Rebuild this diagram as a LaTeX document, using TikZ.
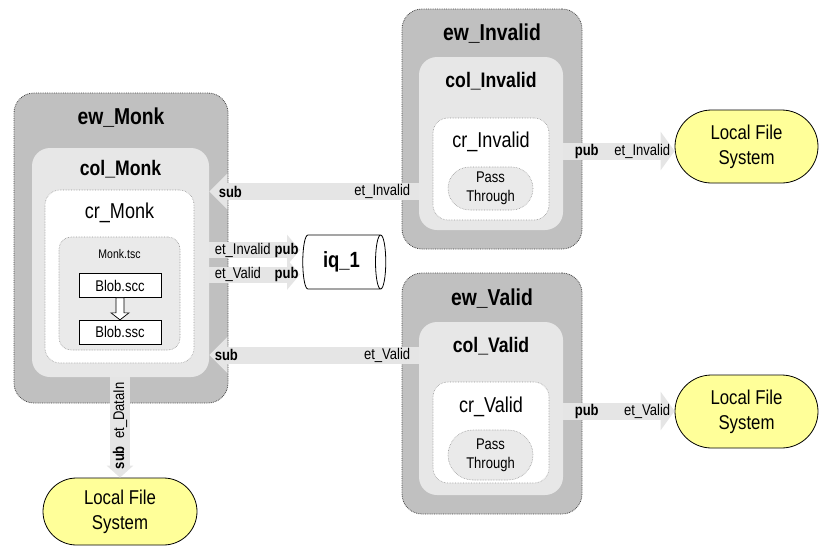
\documentclass[tikz,border=0pt]{standalone}
\usepackage{fontspec}
\setmainfont{Liberation Sans}[FakeStretch=0.84]
\usepackage{tikz}
\usetikzlibrary{shapes.geometric, shapes.misc, arrows.meta, positioning, calc}
\definecolor{ewgray}{RGB}{192,192,192}
\definecolor{colgray}{RGB}{231,231,231}
\definecolor{bandgray}{RGB}{229,229,229}
\definecolor{tscgray}{RGB}{234,234,234}
\definecolor{dotgray}{RGB}{150,150,150}
\definecolor{dotdark}{RGB}{70,70,70}
\definecolor{lfsyellow}{RGB}{255,255,153}
\tikzset{
  ewbox/.style={rectangle, draw=dotdark, densely dotted, fill=ewgray,
    rounded corners=20pt, line width=0.8pt, inner sep=0pt},
  colbox/.style={rectangle, fill=colgray, rounded corners=18pt, inner sep=0pt},
  crbox/.style={rectangle, draw=dotgray, densely dotted, fill=white,
    rounded corners=15pt, line width=0.6pt, inner sep=0pt},
  tscbox/.style={rectangle, draw=dotgray, densely dotted, fill=tscgray,
    rounded corners=12pt, line width=0.6pt, inner sep=0pt},
  passbox/.style={rounded rectangle, draw=dotgray, densely dotted, fill=tscgray,
    line width=0.6pt, align=center, inner sep=0pt, minimum width=85pt,
    font=\fontsize{15.5}{19}\selectfont},
  blobbox/.style={rectangle, draw=black, fill=white, minimum width=82pt,
    minimum height=24pt, line width=0.7pt, font=\fontsize{15.5}{17}\selectfont},
  lfs/.style={rounded rectangle, draw=black, fill=lfsyellow, align=center,
    line width=0.8pt, inner sep=0pt, font=\fontsize{20}{25}\selectfont},
  band/.style={line width=17pt, color=bandgray, -{Triangle[width=35pt, length=18pt]}},
  pubband/.style={line width=16pt, color=bandgray, -{Triangle[width=30pt, length=13pt]}},
  lbl/.style={inner sep=0pt, font=\fontsize{15.5}{17}\selectfont},
  boldlbl/.style={inner sep=0pt, font=\bfseries\fontsize{15.5}{17}\selectfont},
  ewtitle/.style={anchor=center, font=\bfseries\fontsize{23}{25}\selectfont},
  coltitle/.style={anchor=center, font=\bfseries\fontsize{21}{23}\selectfont},
  crtitle/.style={anchor=center, font=\fontsize{21.5}{23}\selectfont}
}
\begin{document}
\begin{tikzpicture}[x=1pt, y=-1pt, >=Stealth, thick]
  \useasboundingbox (0,0) rectangle (819,552);

  % Monk worker with its nested boxes
  \node[ewbox, minimum width=214pt, minimum height=310pt,
    label={[ewtitle, yshift=-25pt]north:ew\_Monk}] (ewM) at (121,248) {};
  \node[colbox, minimum width=177pt, minimum height=229pt,
    label={[coltitle, yshift=-22pt]north:col\_Monk}] (colM) at (120.5,262.5) {};
  \node[crbox, minimum width=149pt, minimum height=173pt,
    label={[crtitle, yshift=-23pt]north:cr\_Monk}] (crM) at (119.5,276.5) {};
  \node[tscbox, minimum width=121pt, minimum height=113pt,
    label={[anchor=center, yshift=-17pt, font=\fontsize{12.5}{15}\selectfont]north:Monk.tsc}] (tsc) at (119.5,293.5) {};
  \node[blobbox] (scc) at (120,285.5) {Blob.scc};
  \node[blobbox, below=22pt of scc] (ssc) {Blob.ssc};
  \draw[fill=white, line width=0.7pt] ([xshift=-4pt]scc.south) -- ++(0,15) -- ++(-5,0)
    -- (ssc.north) -- ++(9,-7) -- ++(-5,0) -- ([xshift=4pt]scc.south) -- cycle;

  % Invalid worker
  \node[ewbox, minimum width=180pt, minimum height=240pt,
    label={[ewtitle, yshift=-25pt]north:ew\_Invalid}] (ewI) at (492,129) {};
  \node[colbox, minimum width=144pt, minimum height=173pt,
    label={[coltitle, yshift=-25pt]north:col\_Invalid}] (colI) at (491,143.5) {};
  \node[crbox, minimum width=116pt, minimum height=102pt,
    label={[crtitle, yshift=-24pt]north:cr\_Invalid}] (crI) at (491,169) {};
  \node[passbox, minimum height=43pt] (passI) at (490.5,188.5) {Pass\\Through};

  % Valid worker
  \node[ewbox, minimum width=180pt, minimum height=241pt,
    label={[ewtitle, yshift=-26pt]north:ew\_Valid}] (ewV) at (492,393.5) {};
  \node[colbox, minimum width=144pt, minimum height=173pt,
    label={[coltitle, yshift=-25pt]north:col\_Valid}] (colV) at (491,408.5) {};
  \node[crbox, minimum width=116pt, minimum height=101pt,
    label={[crtitle, yshift=-25pt]north:cr\_Valid}] (crV) at (491,432.5) {};
  \node[passbox, minimum height=50pt] (passV) at (490.5,455) {Pass\\Through};

  % Stores
  \node[lfs, minimum width=143pt, minimum height=73pt] (lfsI) at (746.5,146.5) {Local File\\System};
  \node[lfs, minimum width=143pt, minimum height=73pt] (lfsV) at (746.5,411.5) {Local File\\System};
  \node[lfs, minimum width=154pt, minimum height=67pt] (lfsB) at (120,511.5) {Local File\\System};

  % Band heights
  \coordinate (subI) at (0,191.5);
  \coordinate (pubA) at (0,250);
  \coordinate (pubB) at (0,274.5);
  \coordinate (subV) at (0,355);
  \coordinate (pubI) at (0,151);
  \coordinate (pubV) at (0,411);

  % Event flows
  \draw[band] (colI.west |- subI) -- (colM.east |- subI);
  \draw[band] (colV.west |- subV) -- (colM.east |- subV);
  \draw[band, -{Triangle[width=38pt, length=14pt]}] (colI.east |- pubI) -- (lfsI.west |- pubI);
  \draw[band, -{Triangle[width=38pt, length=14pt]}] (colV.east |- pubV) -- (lfsV.west |- pubV);
  \draw[band, line width=20pt, -{Triangle[width=26pt, length=12pt]}] (lfsB.north |- colM.south) -- (lfsB.north);
  \draw[pubband] (colM.east |- pubA) -- (300,250);
  \draw[pubband] (colM.east |- pubB) -- (300,274.5);

  % Queue
  \node[cylinder, draw=black, fill=white, line width=0.8pt, shape aspect=0.5,
    minimum width=54pt, minimum height=83pt, inner sep=0pt,
    font=\bfseries\fontsize{22}{24}\selectfont] (iq) at (341.5,262) {iq\_1};

  % Flow labels
  \node[boldlbl, anchor=west] (subIa) at ([xshift=9pt]colM.east |- subI) {sub};
  \node[lbl, anchor=east] (subIb) at ([xshift=-8pt]colI.west |- subI) {et\_Invalid};
  \node[boldlbl, anchor=west] (subVa) at ([xshift=5pt]colM.east |- subV) {sub};
  \node[lbl, anchor=east] (subVb) at ([xshift=-8pt]colV.west |- subV) {et\_Valid};
  \node[lbl, anchor=west] (pubAa) at ([xshift=5pt]colM.east |- pubA) {et\_Invalid};
  \node[boldlbl, anchor=east] (pubAb) at (299,250) {pub};
  \node[lbl, anchor=west] (pubBa) at ([xshift=5pt]colM.east |- pubB) {et\_Valid};
  \node[boldlbl, anchor=east] (pubBb) at (299,274.5) {pub};
  \node[boldlbl, anchor=west] (pubIa) at ([xshift=11pt]colI.east |- pubI) {pub};
  \node[lbl, anchor=east] (pubIb) at ([xshift=-4pt]lfsI.west |- pubI) {et\_Invalid};
  \node[boldlbl, anchor=west] (pubVa) at ([xshift=11pt]colV.east |- pubV) {pub};
  \node[lbl, anchor=east] (pubVb) at ([xshift=-4pt]lfsV.west |- pubV) {et\_Valid};
  \node[lbl, rotate=90, anchor=west] (dataIn) at ([yshift=8pt]lfsB.north) {\textbf{sub}\ \ et\_DataIn};
\end{tikzpicture}
\end{document}
